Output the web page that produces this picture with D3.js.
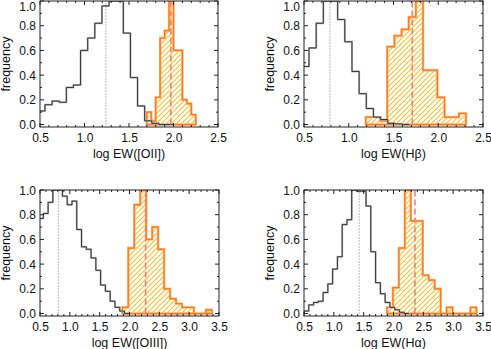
<!DOCTYPE html>
<html>
<head>
<meta charset="utf-8">
<script src="https://cdn.jsdelivr.net/npm/d3@7"></script>
<style>
  body { margin: 0; background: #fff; }
  svg { display: block; font-family: "Liberation Sans", Arial, sans-serif; }
</style>
</head>
<body>
<div id="chart"></div>
<script>
// SVG size
var svgWidth = 491;
var svgHeight = 349;

// bin width of the grey histograms
var allBinW = 0.08;

// [OII] : all galaxies (grey) and selected (orange)
var oiiAllStart = 0.476;
var oiiAll = [0.11, 0.16, 0.19, 0.18, 0.30, 0.32, 0.60, 0.70, 0.82, 0.96, 1.0, 1.0, 0.74, 0.38, 0.15, 0.03, 0.01, 0.0, 0.0];
var oiiSelStart = 1.70, oiiSelW = 0.05;
var oiiSel = [0.10, 0.03, 0.22, 0.70, 0.76, 1.0, 0.60, 0.60, 0.20, 0.17, 0.08];
var oiiMed = [1.24, 1.97];

// Hbeta
var hbAllStart = 0.476;
var hbAll = [0.47, 0.62, 0.82, 1.0, 1.0, 0.85, 0.67, 0.43, 0.25, 0.13, 0.06, 0.04, 0.01, 0.005, 0.0];
var hbSelStart = 1.19, hbSelW = 0.08;
var hbSel = [0.06, 0.06, 0.03, 0.63, 0.72, 0.77, 0.87, 1.0, 0.44, 0.44, 0.22, 0.06, 0.06, 0.09];
var hbMed = [0.79, 1.71];

// [OIII]
var oiiiAllStart = 0.476;
var oiiiAll = [0.77, 0.81, 0.90, 1.0, 1.0, 0.95, 0.88, 0.91, 0.68, 0.54, 0.52, 0.45, 0.35, 0.23, 0.18, 0.10, 0.05, 0.02, 0.0];
var oiiiSelStart = 1.88, oiiiSelW = 0.1;
var oiiiSel = [0.05, 0.53, 0.88, 1.0, 0.60, 0.70, 0.52, 0.20, 0.12, 0.08, 0.05, 0.05, 0.0, 0.0, 0.03];
var oiiiMed = [0.807, 2.27];

// Halpha
var haAllStart = 0.5;
var haAll = [0.02, 0.07, 0.09, 0.10, 0.17, 0.24, 0.36, 0.46, 0.72, 0.76, 1.0, 0.99, 0.99, 0.87, 0.50, 0.25, 0.16, 0.09, 0.05, 0.03, 0.01, 0.0];
var haSelStart = 1.89, haSelW = 0.1;
var haSel = [0.05, 0.21, 0.53, 1.0, 0.75, 0.75, 0.31, 0.27, 0.20, 0.0, 0.05, 0.0, 0.0, 0.0, 0.05];
var haMed = [1.425, 2.36];

var panels = [
  { box: [40, 218, 1, 127], dom: [0.5, 2.5], title: "log EW([OII])",
    all: oiiAll, allStart: oiiAllStart, sel: oiiSel, selStart: oiiSelStart, selW: oiiSelW, med: oiiMed },
  { box: [304, 483, 1, 127], dom: [0.5, 2.5], title: "log EW(H\u03b2)",
    all: hbAll, allStart: hbAllStart, sel: hbSel, selStart: hbSelStart, selW: hbSelW, med: hbMed },
  { box: [40, 219, 190, 316], dom: [0.5, 3.5], title: "log EW([OIII])",
    all: oiiiAll, allStart: oiiiAllStart, sel: oiiiSel, selStart: oiiiSelStart, selW: oiiiSelW, med: oiiiMed },
  { box: [304, 483, 190, 316], dom: [0.5, 3.5], title: "log EW(H\u03b1)",
    all: haAll, allStart: haAllStart, sel: haSel, selStart: haSelStart, selW: haSelW, med: haMed }
];

var svg = d3.select("#chart")
  .append("svg")
  .attr("width", svgWidth)
  .attr("height", svgHeight);

// yellow hatching for the selected sample, "/" lines
var defs = svg.append("defs");
defs.append("pattern")
  .attr("id", "hatch")
  .attr("patternUnits", "userSpaceOnUse")
  .attr("width", 5)
  .attr("height", 5)
  .append("path")
  .attr("d", "M-1,1 L1,-1 M0,5 L5,0 M4,6 L6,4")
  .attr("stroke", "#ffbd2a")
  .attr("stroke-width", 1.1);

// build [x, value] step points from a start, a width and heights
function stepPoints(start, w, vals) {
  var pts = [[start, 0]];
  vals.forEach((v, i) => pts.push([start + i * w, v]));
  var end = start + vals.length * w;
  pts.push([end, vals[vals.length - 1]]);
  pts.push([end, 0]);
  return pts;
}

var fmt = d3.format(".1f");

panels.forEach((p, idx) => {
  var x = d3.scaleLinear().domain(p.dom).range([p.box[0], p.box[1]]);
  var y = d3.scaleLinear().domain([-0.02, 1.0]).range([p.box[3], p.box[2]]);

  var g = svg.append("g");

  defs.append("clipPath")
    .attr("id", "clip" + idx)
    .append("rect")
    .attr("x", p.box[0]).attr("y", p.box[2])
    .attr("width", p.box[1] - p.box[0])
    .attr("height", p.box[3] - p.box[2]);

  var plot = g.append("g").attr("clip-path", `url(#clip${idx})`);

  var line = d3.line()
    .x(d => x(d[0]))
    .y(d => y(d[1]))
    .curve(d3.curveStepAfter);

  // selected sample: hatched and outlined in orange
  var selPts = stepPoints(p.selStart, p.selW, p.sel);
  plot.append("path")
    .attr("d", line(selPts) + "Z")
    .attr("fill", "url(#hatch)")
    .attr("stroke", "#ffb27a")
    .attr("stroke-width", 2.4);
  plot.append("path")
    .attr("d", line(selPts) + "Z")
    .attr("fill", "none")
    .attr("stroke", "#ff7a10")
    .attr("stroke-width", 1.2);

  // whole sample in grey
  var allPts = stepPoints(p.allStart, allBinW, p.all);
  plot.append("path")
    .attr("d", line(allPts))
    .attr("fill", "none")
    .attr("stroke", "#bbb")
    .attr("stroke-width", 2);
  plot.append("path")
    .attr("d", line(allPts))
    .attr("fill", "none")
    .attr("stroke", "#333")
    .attr("stroke-width", 1);

  // medians
  plot.append("line")
    .attr("x1", x(p.med[0])).attr("x2", x(p.med[0]))
    .attr("y1", y(0)).attr("y2", p.box[2])
    .attr("stroke", "#777")
    .attr("stroke-width", 1)
    .attr("stroke-dasharray", "1,2");
  plot.append("line")
    .attr("x1", x(p.med[1])).attr("x2", x(p.med[1]))
    .attr("y1", y(0)).attr("y2", p.box[2])
    .attr("stroke", "#f08070")
    .attr("stroke-width", 1.6)
    .attr("stroke-dasharray", "6,3");

  // frame
  g.append("rect")
    .attr("x", p.box[0]).attr("y", p.box[2])
    .attr("width", p.box[1] - p.box[0])
    .attr("height", p.box[3] - p.box[2])
    .attr("fill", "none")
    .attr("stroke", "#222")
    .attr("stroke-width", 1);

  // ticks, on all four sides, pointing in
  var nMaj = p.dom[1] - p.dom[0] === 2 ? 4 : 6;
  var xMaj = x.ticks(nMaj), xMin = x.ticks(nMaj * 5);
  var yMaj = y.ticks(5), yMin = y.ticks(10);
  var tk = g.append("g").attr("stroke", "#222").attr("stroke-width", 1);
  xMin.forEach(t => {
    var len = xMaj.some(m => Math.abs(m - t) < 1e-6) ? 4 : 2;
    tk.append("line").attr("x1", x(t)).attr("x2", x(t))
      .attr("y1", p.box[3]).attr("y2", p.box[3] - len);
    tk.append("line").attr("x1", x(t)).attr("x2", x(t))
      .attr("y1", p.box[2]).attr("y2", p.box[2] + len);
  });
  yMin.forEach(t => {
    var len = yMaj.some(m => Math.abs(m - t) < 1e-6) ? 4 : 2;
    tk.append("line").attr("y1", y(t)).attr("y2", y(t))
      .attr("x1", p.box[0]).attr("x2", p.box[0] + len);
    tk.append("line").attr("y1", y(t)).attr("y2", y(t))
      .attr("x1", p.box[1]).attr("x2", p.box[1] - len);
  });

  // tick labels
  g.selectAll(".xl")
    .data(xMaj)
    .enter()
    .append("text")
    .attr("x", d => x(d) + 0.5)
    .attr("y", p.box[3] + 15)
    .attr("text-anchor", "middle")
    .attr("font-size", 12)
    .attr("fill", "#111")
    .text(d => fmt(d));
  g.selectAll(".yl")
    .data(yMaj)
    .enter()
    .append("text")
    .attr("x", p.box[0] - 4)
    .attr("y", d => Math.max(y(d) + 4.5, 11))
    .attr("text-anchor", "end")
    .attr("font-size", 12)
    .attr("fill", "#111")
    .text(d => fmt(d));

  // axis titles
  g.append("text")
    .attr("x", (p.box[0] + p.box[1]) / 2)
    .attr("y", p.box[3] + 31)
    .attr("text-anchor", "middle")
    .attr("font-size", 12.5)
    .attr("fill", "#111")
    .text(p.title);
  g.append("text")
    .attr("transform", `translate(${p.box[0] - 30}, ${(p.box[2] + p.box[3]) / 2}) rotate(-90)`)
    .attr("text-anchor", "middle")
    .attr("font-size", 12.5)
    .attr("fill", "#111")
    .text("frequency");
});
</script>
</body>
</html>
